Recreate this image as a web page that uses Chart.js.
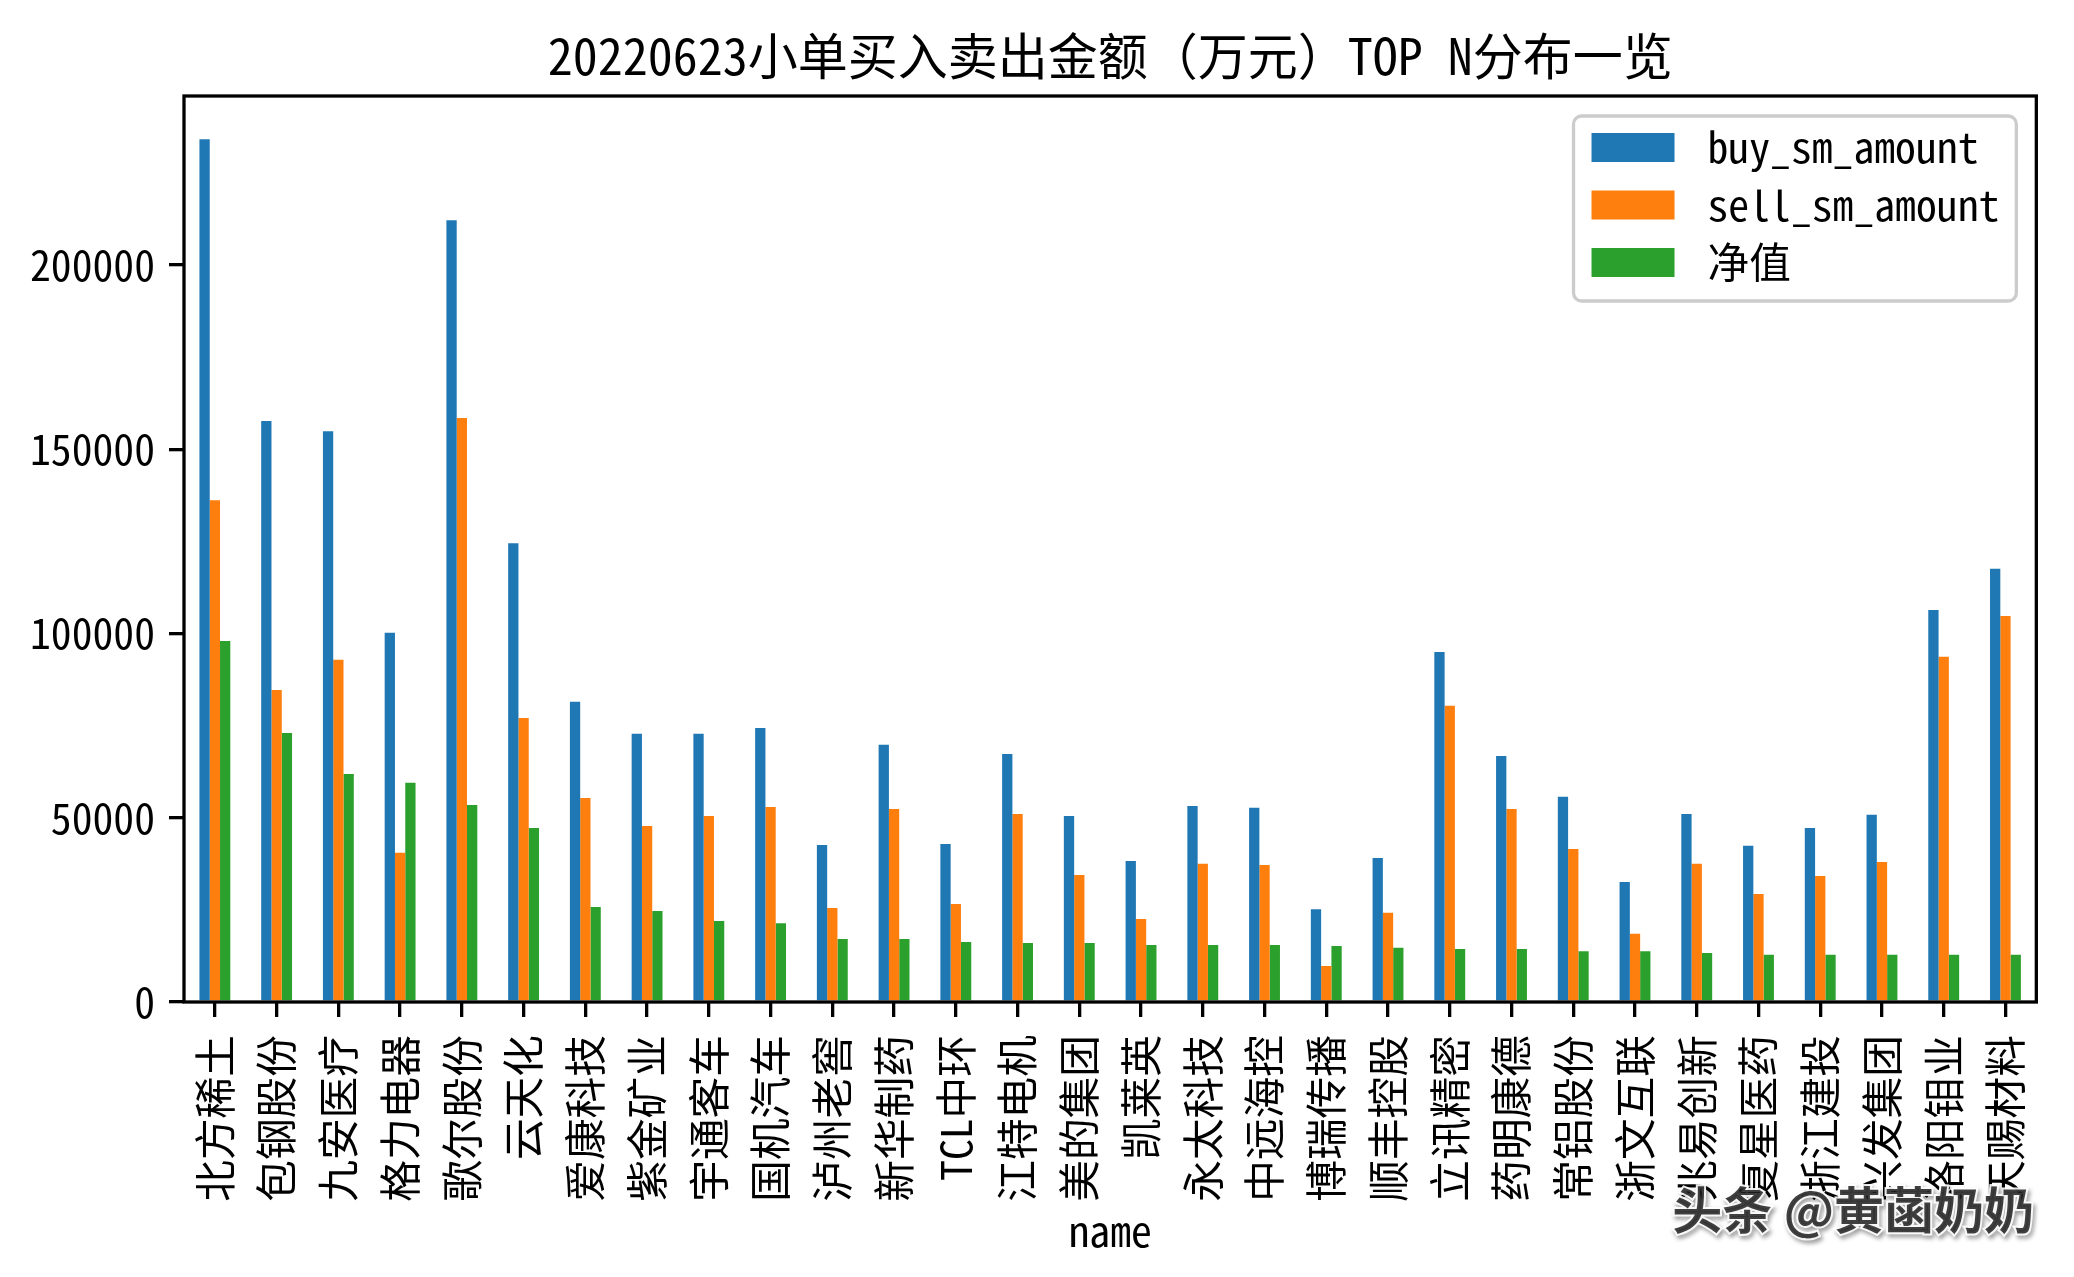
<!DOCTYPE html>
<html lang="zh-CN">
<head>
<meta charset="UTF-8">
<title>20220623小单买入卖出金额TOP N</title>
<script src="https://cdn.jsdelivr.net/npm/chart.js"></script>
<style>
  html, body { margin: 0; padding: 0; background: #fff; }
  #wrap { width: 2074px; height: 1277px; }
</style>
</head>
<body>
<div id="wrap"><canvas id="barChart" width="2074" height="1277"></canvas></div>
<script>
// values (万元)
const names = ['北方稀土', '包钢股份', '九安医疗', '格力电器', '歌尔股份', '云天化', '爱康科技', '紫金矿业', '宇通客车', '国机汽车',
               '泸州老窖', '新华制药', 'TCL中环', '江特电机', '美的集团', '凯莱英', '永太科技', '中远海控', '博瑞传播', '顺丰控股',
               '立讯精密', '药明康德', '常铝股份', '浙文互联', '兆易创新', '复星医药', '浙江建投', '兴发集团', '洛阳钼业', '天赐材料'];
const buySmAmount = [234200, 157700, 154900, 100200, 212200, 124500, 81500, 72800, 72800, 74400,
                     42600, 69800, 42900, 67300, 50500, 38300, 53200, 52700, 25200, 39100,
                     95000, 66800, 55700, 32600, 51000, 42400, 47200, 50800, 106400, 117600];
const sellSmAmount = [136200, 84700, 92900, 40500, 158500, 77100, 55400, 47800, 50500, 52900,
                      25500, 52400, 26600, 51000, 34500, 22500, 37500, 37200, 9800, 24200,
                      80400, 52400, 41500, 18500, 37500, 29300, 34200, 38000, 93700, 104800];
const netValue = [98000, 73000, 61900, 59500, 53500, 47200, 25800, 24700, 22000, 21400,
                  17100, 17100, 16300, 16000, 16000, 15500, 15500, 15500, 15200, 14700,
                  14400, 14400, 13800, 13800, 13300, 12800, 12800, 12800, 12800, 12800];
const seriesLabels = ['buy_sm_amount', 'sell_sm_amount', '净值'];
const seriesColors = ['#1f77b4', '#ff7f0e', '#2ca02c'];
const yTicks = [0, 50000, 100000, 150000, 200000];
const titleText = '20220623小单买入卖出金额（万元）TOP N分布一览';
const xAxisName = 'name';
const watermarkText = '头条 @黄菡奶奶';

const FONT = '"Noto Sans Mono CJK SC", "Noto Sans CJK SC", sans-serif';
const FS = 41.7;

const yMax = Math.max(...buySmAmount, ...sellSmAmount, ...netValue) * 1.05;

// title, frame, legend and watermark drawn like matplotlib does
const decorPlugin = {
    id: 'decor',
    afterDraw(chart) {
        const ctx = chart.ctx;
        const a = chart.chartArea;
        ctx.save();

        // axes frame
        ctx.strokeStyle = '#000';
        ctx.lineWidth = 3.3;
        ctx.strokeRect(a.left, a.top, a.right - a.left, a.bottom - a.top);

        // title centred on the axes
        ctx.fillStyle = '#000';
        ctx.font = '50px ' + FONT;
        ctx.textAlign = 'center';
        ctx.textBaseline = 'middle';
        ctx.fillText(titleText, (a.left + a.right) / 2, 56);

        // legend box, upper right
        ctx.font = FS + 'px ' + FONT;
        const ds = chart.data.datasets;
        let textW = 0;
        ds.forEach(d => { textW = Math.max(textW, ctx.measureText(d.label).width); });
        const boxW = 83, boxH = 29, gap = 33, padL = 18, padR = 17, rowH = 57.5;
        const w = padL + boxW + gap + textW + padR;
        const h = 185;
        const x0 = a.right - 20 - w;
        const y0 = a.top + 20;
        const r = 8;
        ctx.beginPath();
        ctx.moveTo(x0 + r, y0);
        ctx.arcTo(x0 + w, y0, x0 + w, y0 + h, r);
        ctx.arcTo(x0 + w, y0 + h, x0, y0 + h, r);
        ctx.arcTo(x0, y0 + h, x0, y0, r);
        ctx.arcTo(x0, y0, x0 + w, y0, r);
        ctx.closePath();
        ctx.fillStyle = 'rgba(255,255,255,0.8)';
        ctx.fill();
        ctx.strokeStyle = '#cccccc';
        ctx.lineWidth = 3.3;
        ctx.stroke();
        ctx.textAlign = 'left';
        ds.forEach((d, i) => {
            const cy = y0 + 31.5 + i * rowH;
            ctx.fillStyle = d.backgroundColor;
            ctx.fillRect(x0 + padL, cy - boxH / 2, boxW, boxH);
            ctx.fillStyle = '#000';
            ctx.fillText(d.label, x0 + padL + boxW + gap, cy);
        });

        // watermark
        ctx.font = 'bold 50px "Noto Sans CJK SC", sans-serif';
        ctx.textAlign = 'right';
        ctx.textBaseline = 'middle';
        ctx.shadowColor = 'rgba(0,0,0,0.45)';
        ctx.shadowBlur = 4;
        ctx.shadowOffsetX = 2;
        ctx.shadowOffsetY = 3;
        ctx.lineWidth = 4;
        ctx.strokeStyle = 'rgba(255,255,255,0.9)';
        ctx.strokeText(watermarkText, 2034, 1210);
        ctx.shadowColor = 'transparent';
        ctx.fillStyle = 'rgba(30,30,30,0.85)';
        ctx.fillText(watermarkText, 2034, 1210);

        ctx.restore();
    }
};

const seriesData = [buySmAmount, sellSmAmount, netValue];

new Chart(document.getElementById('barChart').getContext('2d'), {
    type: 'bar',
    data: {
        labels: names,
        datasets: seriesLabels.map((label, i) => ({
            label: label,
            data: seriesData[i],
            backgroundColor: seriesColors[i],
            borderWidth: 0,
            categoryPercentage: 0.5,
            barPercentage: 1.0
        }))
    },
    options: {
        responsive: false,
        animation: false,
        devicePixelRatio: 1,
        layout: { padding: { left: 0, right: 30, top: 96, bottom: 0 } },
        plugins: {
            legend: { display: false },
            title: { display: false },
            tooltip: { enabled: false }
        },
        scales: {
            x: {
                offset: true,
                grid: { display: true, offset: false, drawOnChartArea: false, drawTicks: true, tickLength: 15, color: '#000', lineWidth: 3.3 },
                border: { display: false },
                ticks: {
                    autoSkip: false, maxRotation: 90, minRotation: 90, padding: 18,
                    color: '#000', font: { family: FONT, size: FS }
                },
                title: {
                    display: true, text: xAxisName, color: '#000',
                    font: { family: FONT, size: FS }, padding: { top: 0, bottom: 21 }
                },
                afterFit(scale) { scale.height = 275; }
            },
            y: {
                min: 0,
                max: yMax,
                grid: { display: true, drawOnChartArea: false, drawTicks: true, tickLength: 15, color: '#000', lineWidth: 3.3 },
                border: { display: false },
                ticks: {
                    padding: 14,
                    color: '#000', font: { family: FONT, size: FS },
                    callback: v => String(v)
                },
                afterBuildTicks(scale) { scale.ticks = yTicks.map(v => ({ value: v })); },
                afterFit(scale) { scale.width = 184; }
            }
        }
    },
    plugins: [decorPlugin]
});
</script>
</body>
</html>
